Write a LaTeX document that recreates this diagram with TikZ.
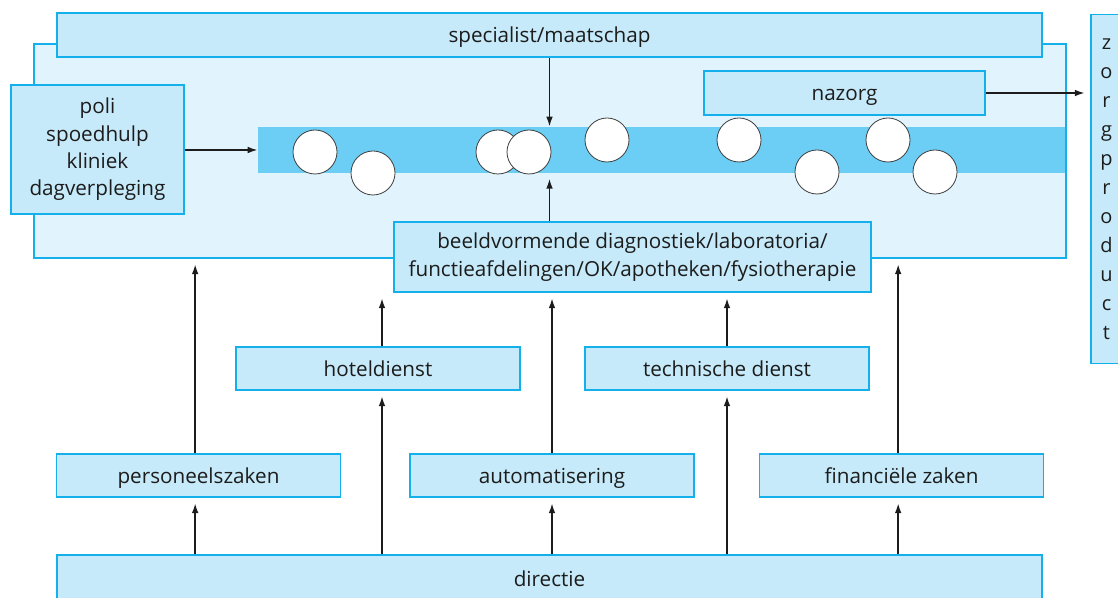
\documentclass[tikz,border=0pt]{standalone}
\usepackage{fontspec}
\setmainfont{Open Sans}
\usetikzlibrary{arrows.meta}
\definecolor{boxfill}{RGB}{198,234,249}
\definecolor{boxline}{RGB}{20,176,236}
\definecolor{areafill}{RGB}{225,244,253}
\definecolor{bandfill}{RGB}{108,206,244}
\definecolor{ink}{RGB}{28,28,28}
\begin{document}
\begin{tikzpicture}[x=0.75pt,y=-0.75pt,
  box/.style={draw=boxline, fill=boxfill, line width=1.2pt, inner sep=0pt,
    text=ink, font=\fontsize{15.5}{20.5}\selectfont, align=center},
  oneline/.style={text height=14pt, text depth=2pt},
  area/.style={draw=boxline, fill=areafill, line width=1.2pt, inner sep=0pt},
  band/.style={fill=bandfill, inner sep=0pt},
  ball/.style={circle, draw=ink!85, fill=white, line width=0.6pt,
    minimum size=33pt, inner sep=0pt},
  arr/.style={draw=ink, line width=1.3pt, -{Latex[length=7.5pt,width=5pt]}},
  gap/.style={shorten >=4pt},
  wide/.style={oneline, minimum width=213pt, minimum height=32.25pt}]
\clip (0,0) rectangle (1118,598);
\useasboundingbox (0,0) rectangle (1118,598);

% hospital area with the care process band
\node[area, minimum width=774pt, minimum height=160.5pt] (area) at (550,151) {};
\node[box, oneline, minimum width=738.75pt, minimum height=33pt] (spec) at (549.5,35) {specialist/maatschap};
\node[box, minimum width=129.75pt, minimum height=96.75pt] (poli) at (97.5,149.5)
  {poli\\spoedhulp\\kliniek\\dagverpleging};
\node[band, minimum width=605.25pt, minimum height=34.5pt] (band) at (661.5,150) {};

% patients moving through the process
\node[ball] (c1) at (315,152) {};
\node[ball] (c2) at (373,173) {};
\node[ball] (c3) at (498,152) {};
\node[ball] (c4) at (529,152) {};
\node[ball] (c5) at (607,140) {};
\node[ball] (c6) at (739,140) {};
\node[ball] (c7) at (817,172) {};
\node[ball] (c8) at (888,140) {};
\node[ball] (c9) at (935,172) {};

\node[box, oneline, minimum width=210.75pt, minimum height=33pt] (nazorg) at (844.5,93) {nazorg};
\node[box, minimum width=357.75pt, minimum height=52.5pt] (beeld) at (632.5,257)
  {beeldvormende diagnostiek/laboratoria/\\functieafdelingen/OK/apotheken/fysiotherapie};
\node[box, minimum width=23.25pt, minimum height=261.75pt,
  font=\fontsize{15}{21.75}\selectfont] (zorg) at (1106.5,189)
  {z\\o\\r\\g\\p\\r\\o\\d\\u\\c\\t};

% support services
\node[box, wide] (hotel) at (378,368.5) {hoteldienst};
\node[box, wide] (tech) at (727,368.5) {technische dienst};
\node[box, wide] (persz) at (198.5,475.5) {personeelszaken};
\node[box, wide] (auto) at (552,475.5) {automatisering};
\node[box, wide] (fin) at (901.5,475.5) {financiële zaken};
\node[box, oneline, minimum width=738.75pt, minimum height=35.25pt] (dir) at (549.5,578.5) {directie};

% connectors
\draw[arr] (spec.south) -- (spec.south |- band.north);
\draw[arr, gap] (spec.south |- beeld.north) -- (spec.south |- band.south);
\draw[arr] (poli.east |- band.west) -- (band.west);
\draw[arr, gap] (nazorg.east) -- (nazorg.east -| zorg.west);

\draw[arr, gap] ([xshift=-2.5pt]persz.north) -- ([xshift=-2.5pt]persz.north |- area.south);
\draw[arr, gap] ([xshift=-2.5pt]dir.north -| persz.north) -- ([xshift=-2.5pt]persz.south);
\draw[arr, gap] ([xshift=-2.5pt]fin.north) -- ([xshift=-2.5pt]fin.north |- area.south);
\draw[arr, gap] ([xshift=-2.5pt]dir.north -| fin.north) -- ([xshift=-2.5pt]fin.south);
\draw[arr, gap] (auto.north) -- (auto.north |- beeld.south);
\draw[arr, gap] (dir.north -| auto.north) -- (auto.south);
\draw[arr, gap] ([xshift=3pt]hotel.north) -- ([xshift=3pt]hotel.north |- beeld.south);
\draw[arr, gap] ([xshift=3pt]dir.north -| hotel.north) -- ([xshift=3pt]hotel.south);
\draw[arr, gap] (tech.north) -- (tech.north |- beeld.south);
\draw[arr, gap] (dir.north -| tech.north) -- (tech.south);
\end{tikzpicture}
\end{document}
